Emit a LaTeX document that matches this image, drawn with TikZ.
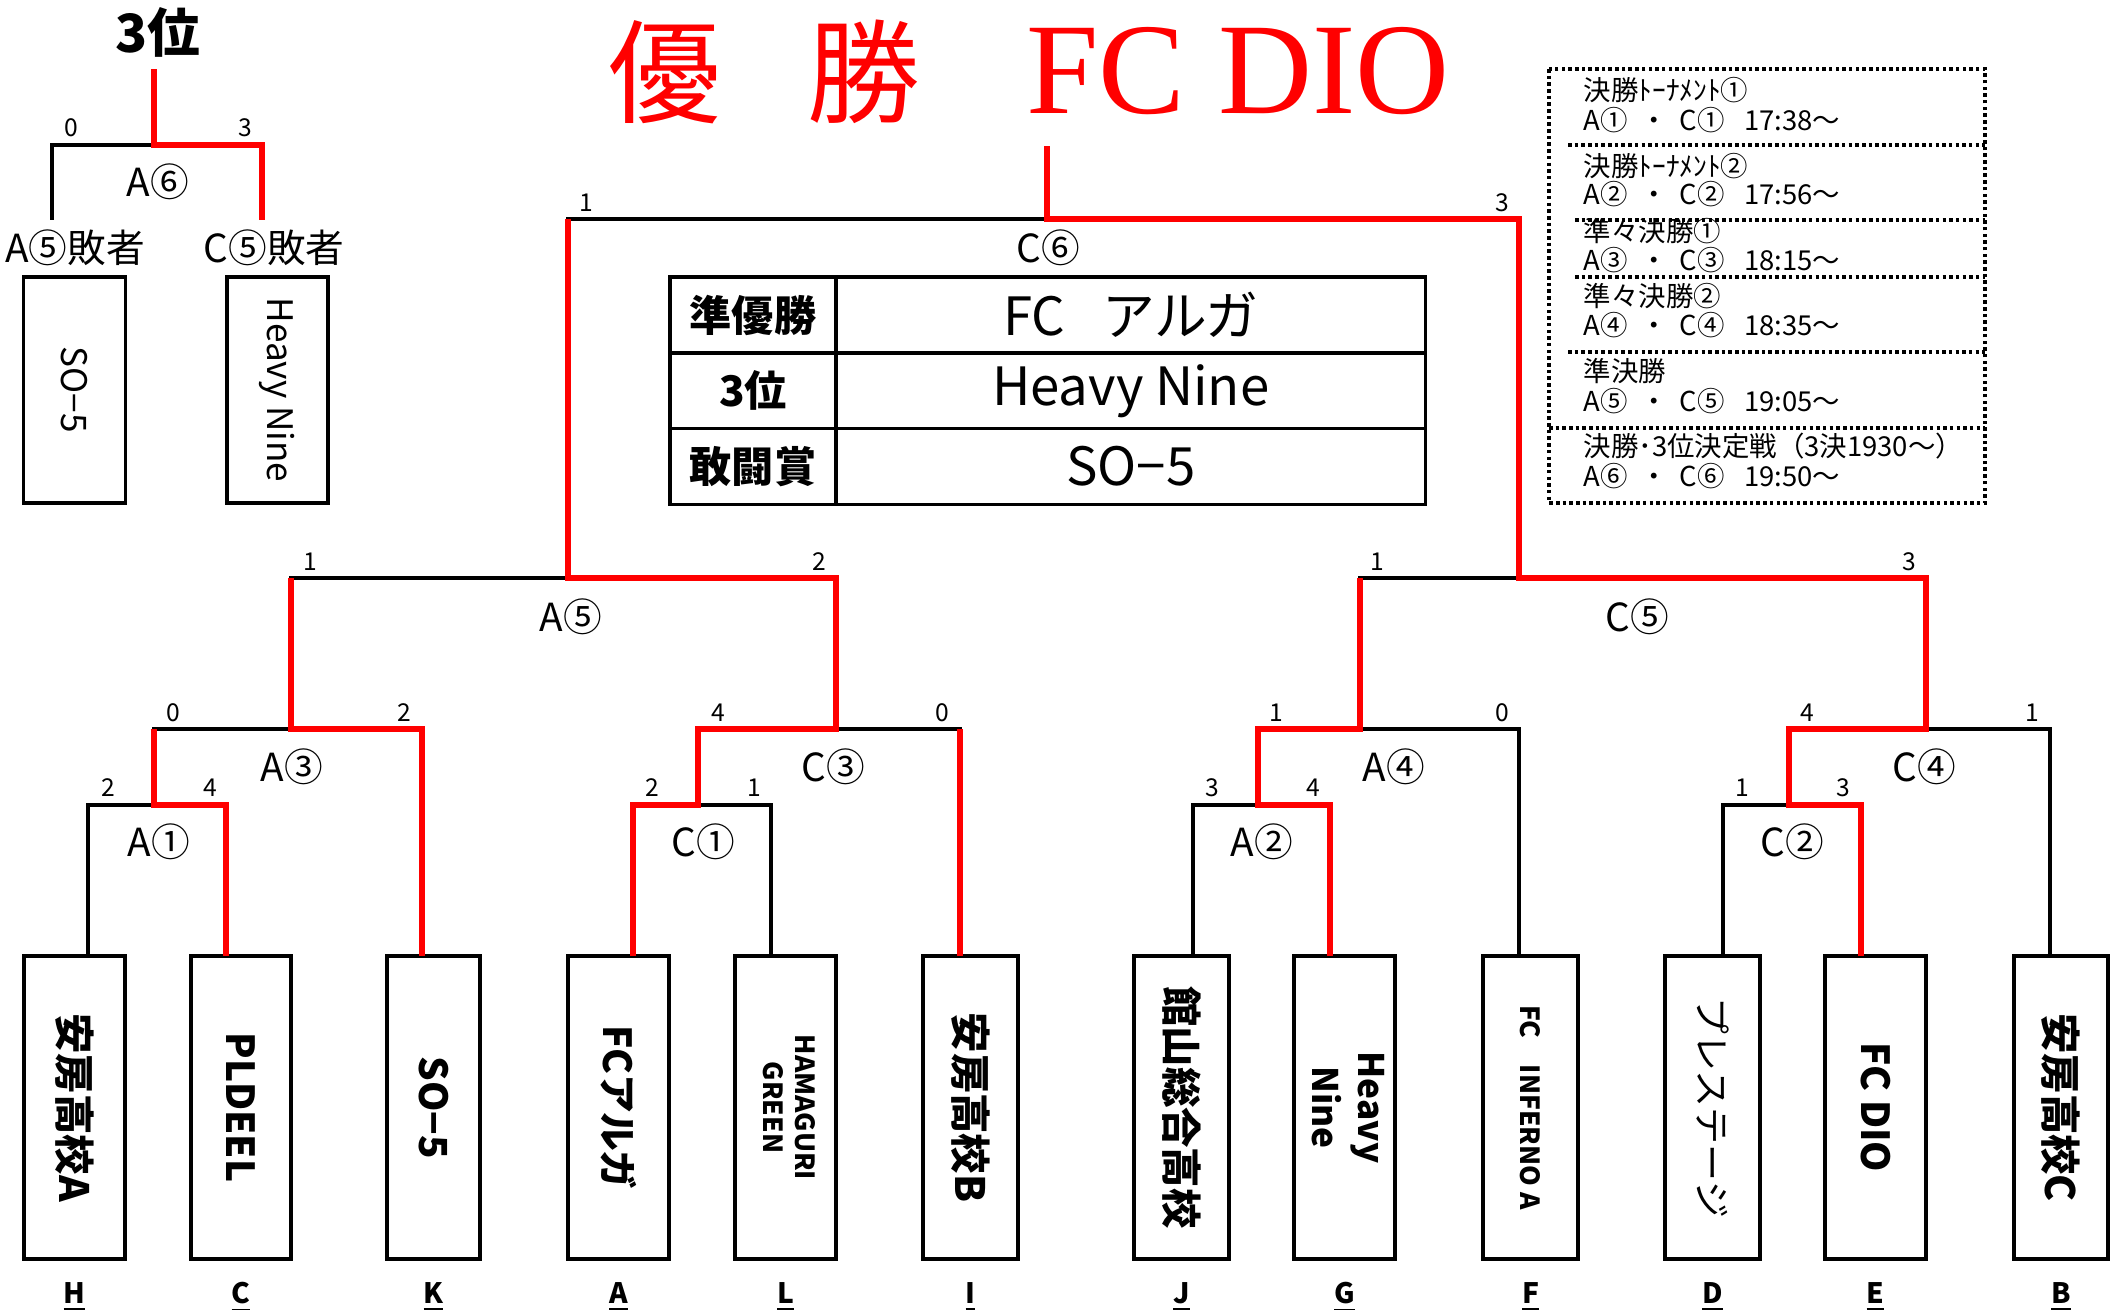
\documentclass[tikz,border=0pt]{standalone}
\usepackage{fontspec}
\setmainfont{Noto Sans CJK JP}
\newfontfamily\titleserif{Liberation Serif}
\usepackage{graphicx}
\usetikzlibrary{positioning}
\tikzset{line/.style={line width=0.9pt,line join=miter},
         win/.style={draw=red,line width=1.7pt,line join=miter},
         team/.style={draw,line width=1pt,minimum height=3.03cm,inner sep=0pt,font=\fontsize{11.5}{13}\selectfont\bfseries},
         team3/.style={draw,line width=1pt,minimum height=2.26cm,inner sep=0pt,font=\fontsize{10}{12}\selectfont},
         score/.style={inner sep=0pt,font=\fontsize{7}{8}\selectfont},
         match/.style={inner sep=0pt,font=\fontsize{11}{12}\selectfont},
         tag/.style={inner sep=0pt,font=\fontsize{8}{9}\selectfont\bfseries},
         cell/.style={draw,line width=1pt,minimum height=0.757cm,inner sep=0pt,outer sep=0pt},
         sched/.style={anchor=base west,inner sep=0pt,font=\fontsize{7.8}{8}\selectfont},
         dotline/.style={line width=1pt,dash pattern=on 1pt off 0.9pt},
         titletext/.style={inner sep=0pt,text=red,font=\fontsize{32}{32}\selectfont}
}

\begin{document}
\begin{tikzpicture}[x=0.01cm,y=-0.01cm]
\useasboundingbox (0,0) rectangle (2118,1313);

% title
\node[titletext] (yu) at (665,72) {優};
\node[titletext] (sho) at (864,72) {勝};
\node[titletext,font=\titleserif\fontsize{37}{37}\selectfont] (champion) at (1238,71) {FC DIO};
\node[inner sep=0pt,font=\fontsize{15}{15}\selectfont\bfseries] (third) at (158,32) {3位};

% teams
\node[team,minimum width=1.01cm] (tH) at (74.5,1107.5) {\rotatebox{-90}{安房高校A}};
\node[team,minimum width=1.00cm,font=\fontsize{11}{13}\selectfont\bfseries] (tC) at (241,1107.5) {\rotatebox{-90}{PLDEEL}};
\node[team,minimum width=0.93cm,font=\fontsize{11}{13}\selectfont\bfseries] (tK) at (433.5,1107.5) {\rotatebox{-90}{SO−5}};
\node[team,minimum width=1.01cm,font=\fontsize{11}{13}\selectfont\bfseries] (tA) at (618.5,1107.5) {\rotatebox{-90}{FCアルガ}};
\node[team,minimum width=1.01cm,font=\fontsize{7.5}{9}\selectfont\bfseries] (tL) at (785.5,1107.5) {\rotatebox{-90}{\begin{tabular}{@{}c@{}}HAMAGURI\\GREEN\end{tabular}}};
\node[team,minimum width=0.95cm] (tI) at (970.5,1107.5) {\rotatebox{-90}{安房高校B}};
\node[team,minimum width=0.95cm] (tJ) at (1181.5,1107.5) {\rotatebox{-90}{館山総合高校}};
\node[team,minimum width=1.01cm,font=\fontsize{10}{13}\selectfont\bfseries] (tG) at (1344.5,1107.5) {\rotatebox{-90}{\begin{tabular}{@{}c@{}}Heavy\\Nine\end{tabular}}};
\node[team,minimum width=0.95cm,font=\fontsize{7.5}{9}\selectfont\bfseries] (tF) at (1530.5,1107.5) {\rotatebox{-90}{FC　INFERNO A}};
\node[team,minimum width=0.95cm,font=\fontsize{10.5}{12}\selectfont] (tD) at (1712.5,1107.5) {\rotatebox{-90}{プレステージ}};
\node[team,minimum width=1.01cm,font=\fontsize{11}{13}\selectfont\bfseries] (tE) at (1875.5,1107.5) {\rotatebox{-90}{FC DIO}};
\node[team,minimum width=0.94cm] (tB) at (2061,1107.5) {\rotatebox{-90}{安房高校C}};

\node[tag] (lH) at (74.5,1297) {\underline{H}};
\node[tag] (lC) at (241,1297) {\underline{C}};
\node[tag] (lK) at (433.5,1297) {\underline{K}};
\node[tag] (lA) at (618.5,1297) {\underline{A}};
\node[tag] (lL) at (785.5,1297) {\underline{L}};
\node[tag] (lI) at (970.5,1297) {\underline{I}};
\node[tag] (lJ) at (1181.5,1297) {\underline{J}};
\node[tag] (lG) at (1344.5,1297) {\underline{G}};
\node[tag] (lF) at (1530.5,1297) {\underline{F}};
\node[tag] (lD) at (1712.5,1297) {\underline{D}};
\node[tag] (lE) at (1875.5,1297) {\underline{E}};
\node[tag] (lB) at (2061,1297) {\underline{B}};

% feet and junctions
\coordinate (fH) at (88,956);
\coordinate (fC) at (226,956);
\coordinate (fK) at (422,956);
\coordinate (fA) at (633,956);
\coordinate (fL) at (771,956);
\coordinate (fI) at (960,956);
\coordinate (fJ) at (1193,956);
\coordinate (fG) at (1330,956);
\coordinate (fF) at (1519,956);
\coordinate (fD) at (1723,956);
\coordinate (fE) at (1861,956);
\coordinate (fB) at (2050,956);
\coordinate (A1) at (154,805);
\coordinate (C1) at (698,805);
\coordinate (A2) at (1258,805);
\coordinate (C2) at (1789,805);
\coordinate (A3) at (291,729);
\coordinate (C3) at (836,729);
\coordinate (A4) at (1360,729);
\coordinate (C4) at (1926,729);
\coordinate (A5) at (568,578);
\coordinate (C5) at (1519,578);
\coordinate (C6) at (1047,219);
\coordinate (top) at (1047,146);
\coordinate (f3L) at (52,220);
\coordinate (f3R) at (262,220);
\coordinate (A6) at (154,145);
\coordinate (top3) at (154,69);

% bracket
\draw[line] (fH) |- (A1) -| (fC);
\draw[line] (fA) |- (C1) -| (fL);
\draw[line] (fJ) |- (A2) -| (fG);
\draw[line] (fD) |- (C2) -| (fE);
\draw[line] (A1) |- (A3) -| (fK);
\draw[line] (C1) |- (C3) -| (fI);
\draw[line] (A2) |- (A4) -| (fF);
\draw[line] (C2) |- (C4) -| (fB);
\draw[line] (A3) |- (A5) -| (C3);
\draw[line] (A4) |- (C5) -| (C4);
\draw[line] (A5) |- (C6) -| (C5);
\draw[line] (f3L) |- (A6) -| (f3R);

% winners
\draw[win] (fC) |- (A1) -- (A1 |- A3);
\draw[win] (fK) |- (A3) -- (A3 |- A5);
\draw[win] (fI) -- (fI |- C3);
\draw[win] (fA) |- (C1) |- (C3) |- (A5) -- (A5 |- C6);
\draw[win] (fG) |- (A2) |- (A4) -- (A4 |- C5);
\draw[win] (fE) |- (C2) |- (C4) |- (C5) |- (C6) -- (top);
\draw[win] (f3R) |- (A6) -- (top3);

% match names
\node[match] (nA1) at (159,842) {A①};
\node[match] (nC1) at (703,842) {C①};
\node[match] (nA2) at (1262,842) {A②};
\node[match] (nC2) at (1792,842) {C②};
\node[match] (nA3) at (292,767) {A③};
\node[match] (nC3) at (833,767) {C③};
\node[match] (nA4) at (1394,767) {A④};
\node[match] (nC4) at (1924,767) {C④};
\node[match] (nA5) at (571,617) {A⑤};
\node[match] (nC5) at (1637,617) {C⑤};
\node[match] (nC6) at (1048,248) {C⑥};
\node[match] (nA6) at (158,182) {A⑥};
\node[match] (lose1) at (75,248) {A⑤敗者};
\node[match] (lose2) at (274,248) {C⑤敗者};

% scores
\node[score] at (108,788) {2};
\node[score] at (210,788) {4};
\node[score] at (652,788) {2};
\node[score] at (754,788) {1};
\node[score] at (1212,788) {3};
\node[score] at (1313,788) {4};
\node[score] at (1742,788) {1};
\node[score] at (1843,788) {3};
\node[score] at (173,713) {0};
\node[score] at (404,713) {2};
\node[score] at (718,713) {4};
\node[score] at (942,713) {0};
\node[score] at (1276,713) {1};
\node[score] at (1502,713) {0};
\node[score] at (1807,713) {4};
\node[score] at (2032,713) {1};
\node[score] at (310,562) {1};
\node[score] at (819,562) {2};
\node[score] at (1377,562) {1};
\node[score] at (1909,562) {3};
\node[score] at (586,203) {1};
\node[score] at (1502,203) {3};
\node[score] at (71,128) {0};
\node[score] at (245,128) {3};

% third place boxes
\node[team3,minimum width=1.02cm] (b3L) at (74.5,390) {\rotatebox{-90}{SO−5}};
\node[team3,minimum width=1.01cm] (b3R) at (277.5,390) {\rotatebox{-90}{Heavy Nine}};

% results table
\node[cell,minimum width=1.66cm,font=\fontsize{12}{12}\selectfont\bfseries] (k1) at (753,315) {準優勝};
\node[cell,minimum width=5.89cm,right=0pt of k1,font=\fontsize{15}{15}\selectfont] (v1) {FC\hspace{0.7em}アルガ};
\node[cell,minimum width=1.66cm,below=0pt of k1,font=\fontsize{12}{12}\selectfont\bfseries] (k2) {3位};
\node[cell,minimum width=5.89cm,right=0pt of k2,font=\fontsize{15}{15}\selectfont] (v2) {Heavy Nine};
\node[cell,minimum width=1.66cm,below=0pt of k2,font=\fontsize{12}{12}\selectfont\bfseries] (k3) {敢闘賞};
\node[cell,minimum width=5.89cm,right=0pt of k3,font=\fontsize{15}{15}\selectfont] (v3) {SO−5};

% schedule
\draw[dotline] (1549,69) rectangle (1985,503);
\draw[dotline] (1568,145) -- (1985,145);
\draw[dotline] (1575,220) -- (1985,220);
\draw[dotline] (1575,277) -- (1985,277);
\draw[dotline] (1568,352) -- (1985,352);
\draw[dotline] (1549,428) -- (1985,428);
\node[sched] (s1a) at (1583,101) {決勝ﾄｰﾅﾒﾝﾄ①};
\node[sched] (s1b) at (1583,131) {A①\hspace{0.45em}・\hspace{0.45em}C①\hspace{0.7em}17:38〜};
\node[sched] (s2a) at (1583,177) {決勝ﾄｰﾅﾒﾝﾄ②};
\node[sched] (s2b) at (1583,205) {A②\hspace{0.45em}・\hspace{0.45em}C②\hspace{0.7em}17:56〜};
\node[sched] (s3a) at (1583,242) {準々決勝①};
\node[sched] (s3b) at (1583,271) {A③\hspace{0.45em}・\hspace{0.45em}C③\hspace{0.7em}18:15〜};
\node[sched] (s4a) at (1583,307) {準々決勝②};
\node[sched] (s4b) at (1583,336) {A④\hspace{0.45em}・\hspace{0.45em}C④\hspace{0.7em}18:35〜};
\node[sched] (s5a) at (1583,382) {準決勝};
\node[sched] (s5b) at (1583,412) {A⑤\hspace{0.45em}・\hspace{0.45em}C⑤\hspace{0.7em}19:05〜};
\node[sched] (s6a) at (1583,457) {決勝･3位決定戦（3決1930〜）};
\node[sched] (s6b) at (1583,487) {A⑥\hspace{0.45em}・\hspace{0.45em}C⑥\hspace{0.7em}19:50〜};

\end{tikzpicture}
\end{document}
